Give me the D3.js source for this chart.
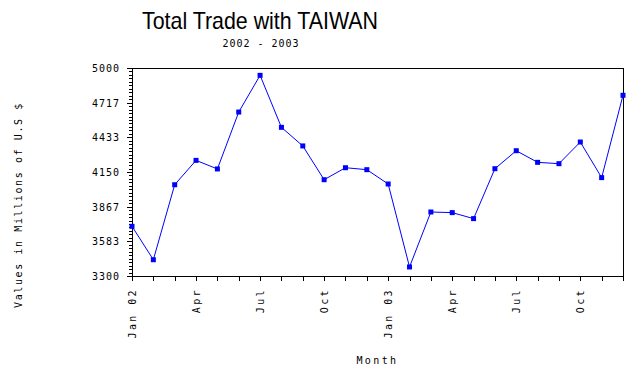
<!DOCTYPE html>
<html lang="en">
<head>
  <meta charset="UTF-8">
  <title>Total Trade with TAIWAN</title>
  <script src="https://d3js.org/d3.v7.min.js"></script>
  <style>
    body { background: #fff; margin: 0; }
    svg { display: block; }
    .title { font-family: "Liberation Sans", Arial, sans-serif; font-size: 24px; }
    .mono { font-family: "DejaVu Sans Mono", monospace; font-size: 10px; letter-spacing: 1px; }
    .xtick { letter-spacing: 2.4px; }
    .ylab { letter-spacing: 1.6px; }
    .axis path, .axis line { stroke: #000; shape-rendering: crispEdges; }
  </style>
</head>
<body>
  <svg width="636" height="370"></svg>

  <script>
    const months = ["Jan 02","Feb 02","Mar 02","Apr 02","May 02","Jun 02","Jul 02","Aug 02","Sep 02","Oct 02","Nov 02","Dec 02",
                    "Jan 03","Feb 03","Mar 03","Apr 03","May 03","Jun 03","Jul 03","Aug 03","Sep 03","Oct 03","Nov 03","Dec 03"];
    const trade = [3706, 3433, 4046, 4245, 4175, 4640, 4940, 4515, 4363, 4087, 4185, 4169,
                   4052, 3374, 3823, 3818, 3769, 4177, 4324, 4229, 4218, 4395, 4104, 4777];
    const tickLabels = {"Jan 02":"Jan 02","Apr 02":"Apr","Jul 02":"Jul","Oct 02":"Oct",
                        "Jan 03":"Jan 03","Apr 03":"Apr","Jul 03":"Jul","Oct 03":"Oct"};
    const yTicks = [3300, 3583, 3867, 4150, 4433, 4717, 5000];

    const svg = d3.select("svg");
    const mLeft = 132, mRight = 623, mTop = 68, mBottom = 276;

    const x = d3.scalePoint().domain(months).range([mLeft, mRight]);
    const y = d3.scaleLinear().domain([3300, 5000]).range([mBottom, mTop]);

    // Titles
    svg.append("text").attr("class", "title")
      .attr("x", 260).attr("y", 29).attr("text-anchor", "middle")
      .attr("textLength", 236).attr("lengthAdjust", "spacingAndGlyphs")
      .text("Total Trade with TAIWAN");
    svg.append("text").attr("class", "mono")
      .attr("x", 261).attr("y", 47).attr("text-anchor", "middle")
      .text("2002 - 2003");

    // Frame
    svg.append("rect")
      .attr("x", mLeft).attr("y", mTop)
      .attr("width", mRight - mLeft).attr("height", mBottom - mTop)
      .attr("fill", "none").attr("stroke", "#000")
      .attr("shape-rendering", "crispEdges");

    // Y axis with minor ticks
    const minor = d3.range(0, 61).map(i => 3300 + i * 1700 / 60);
    svg.append("g").attr("class", "axis")
      .attr("transform", `translate(${mLeft},0)`)
      .call(d3.axisLeft(y).tickValues(minor).tickSize(3).tickFormat(""))
      .call(g => g.select(".domain").remove());
    const ya = svg.append("g").attr("class", "axis")
      .attr("transform", `translate(${mLeft},0)`)
      .call(d3.axisLeft(y).tickValues(yTicks).tickSize(5).tickPadding(7).tickFormat(d3.format("d")));
    ya.select(".domain").remove();
    ya.selectAll("text").attr("class", "mono").attr("font-family", null).attr("font-size", null).attr("dy", "0.35em");

    // X axis
    const xa = svg.append("g").attr("class", "axis")
      .attr("transform", `translate(0,${mBottom})`)
      .call(d3.axisBottom(x).tickSize(5).tickFormat(d => tickLabels[d] || ""));
    xa.select(".domain").remove();
    xa.selectAll("text").attr("class", "mono xtick").attr("font-family", null).attr("font-size", null)
      .attr("transform", "rotate(-90)")
      .attr("text-anchor", "end")
      .attr("x", -12).attr("y", 0).attr("dy", "0.35em");

    // Axis labels
    svg.append("text").attr("class", "mono xtick")
      .attr("x", (mLeft + mRight) / 2).attr("y", 364).attr("text-anchor", "middle")
      .text("Month");
    svg.append("text").attr("class", "mono ylab")
      .attr("transform", `translate(22,${(mTop + mBottom) / 2 + 33}) rotate(-90)`)
      .attr("text-anchor", "middle")
      .text("Values in Millions of U.S $");

    // Line and markers
    const line = d3.line().x((d, i) => x(months[i])).y(d => y(d));
    svg.append("path").datum(trade)
      .attr("d", line).attr("fill", "none")
      .attr("stroke", "#0000ff").attr("stroke-width", 1);
    svg.append("g").selectAll("rect").data(trade).join("rect")
      .attr("x", (d, i) => x(months[i]) - 2.5)
      .attr("y", d => y(d) - 2.5)
      .attr("width", 5).attr("height", 5)
      .attr("fill", "#0000ff");
  </script>
</body>
</html>
